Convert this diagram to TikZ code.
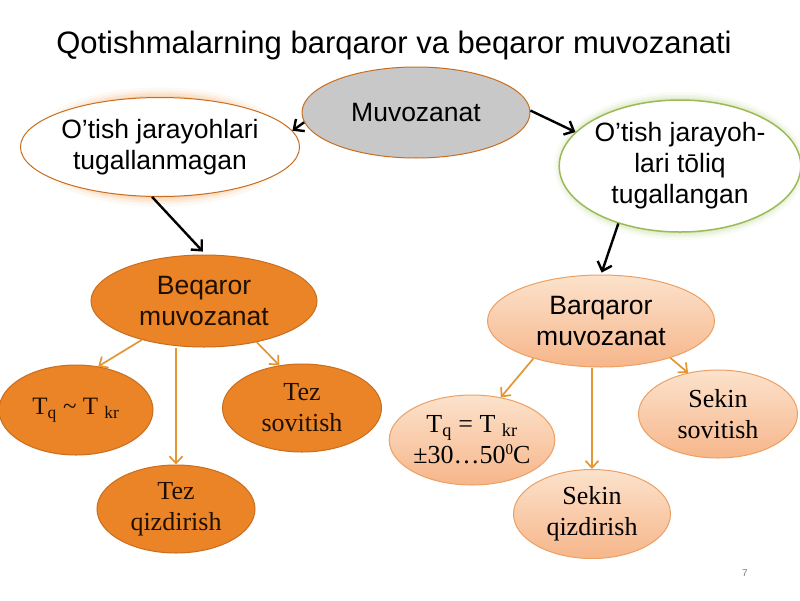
\documentclass[tikz,border=0pt]{standalone}
\usepackage{fontspec}
\setmainfont{Liberation Serif}
\setsansfont{Liberation Sans}
\usetikzlibrary{shapes.geometric,arrows.meta}
\definecolor{grayfill}{RGB}{200,200,200}
\definecolor{ordraw}{RGB}{200,110,30}
\definecolor{orfill}{RGB}{234,132,38}
\definecolor{ortext}{RGB}{30,15,0}
\definecolor{pk1}{RGB}{252,226,204}
\definecolor{pk2}{RGB}{246,182,138}
\definecolor{pkdraw}{RGB}{236,160,100}
\definecolor{grn}{RGB}{155,187,89}
\definecolor{glowor}{RGB}{246,160,80}
\definecolor{glowgr}{RGB}{180,210,120}
\definecolor{orline}{RGB}{228,150,50}
\newcommand{\degz}{\raisebox{0.75ex}{\fontsize{15}{15}\selectfont 0}}
\begin{document}
\begin{tikzpicture}[x=1pt,y=-1pt,
  sans/.style={font=\sffamily\fontsize{26.5}{31}\selectfont},
  serif/.style={font=\rmfamily\fontsize{26}{31}\selectfont},
  ell/.style={ellipse, inner sep=0pt, align=center, line width=1pt},
  orangenode/.style={ell, serif, fill=orfill, draw=ordraw, text=ortext},
  peachnode/.style={ell, serif, top color=pk1, bottom color=pk2, draw=pkdraw},
  blkarrow/.style={-{Straight Barb[length=8pt,width=15pt]}, line width=2.4pt, black},
  orarrow/.style={-{Straight Barb[length=7pt,width=13pt]}, line width=1.7pt, draw=orline}]
\useasboundingbox (0,0) rectangle (800,600);
\fill[white] (0,0) rectangle (800,600);

\node[font=\sffamily\fontsize{31}{36}\selectfont, anchor=base] (title) at (394,53) {Qotishmalarning barqaror va beqaror muvozanati};

% glows
\foreach \w/\o in {20/0.07,14/0.1,9/0.14,4/0.2}
  \draw[line width=\w pt, draw=glowor, opacity=\o] (160,147) ellipse [x radius=120pt, y radius=49.5pt];
\foreach \w/\o in {16/0.07,11/0.1,7/0.14,3/0.2}
  \draw[line width=\w pt, draw=glowgr, opacity=\o] (680,166) ellipse [x radius=118pt, y radius=66pt];

\node[ell, sans, fill=grayfill, draw=ordraw, minimum width=228pt, minimum height=91pt] (muv) at (416,112.5) {Muvozanat};
\node[ell, sans, fill=white, draw=ordraw, minimum width=240pt, minimum height=99pt] (lt) at (160,147) {O’tish jarayohlari\\tugallanmagan};
\node[ell, sans, fill=white, draw=grn, line width=1.5pt, minimum width=236pt, minimum height=132pt] (rt) at (680,166) {O’tish jarayoh-\\lari tōliq\\tugallangan};

\node[ell, sans, fill=orfill, draw=ordraw, text=ortext, minimum width=226pt, minimum height=92pt] (bq) at (204,301) {Beqaror\\muvozanat};
\node[ell, sans, top color=pk1, bottom color=pk2, draw=pkdraw, minimum width=227pt, minimum height=92pt] (br) at (601,321) {Barqaror\\muvozanat};

\node[orangenode, font=\rmfamily\fontsize{25}{30}\selectfont, minimum width=154pt, minimum height=90pt] (tq1) at (76,410) {T\textsubscript{q} \textasciitilde{} T \textsubscript{kr}};
\node[orangenode, minimum width=159pt, minimum height=88pt] (ts) at (302,408) {Tez\\sovitish};
\node[orangenode, minimum width=158pt, minimum height=88pt] (tz) at (176,509) {Tez\\qizdirish};

\node[peachnode, minimum width=157pt, minimum height=90pt] (tq2) at (472,440) {T\textsubscript{q} = T \textsubscript{kr}\\±30…50\degz C};
\node[peachnode, minimum width=159pt, minimum height=88pt] (ss) at (718,414) {Sekin\\sovitish};
\node[peachnode, minimum width=157pt, minimum height=89pt] (sq) at (592,514) {Sekin\\qizdirish};

\node[font=\sffamily\fontsize{10}{12}\selectfont, text=gray] (pn) at (745,573) {7};

% connectors
\draw[blkarrow] (muv.185) -- (lt.7);
\draw[blkarrow] (muv.1) -- (rt.162);
\draw[blkarrow, shorten >=4pt] (lt.261) -- (bq.88);
\draw[blkarrow, shorten >=2pt] (rt.223) -- (br.90);
\draw[orarrow] (bq.212) -- (tq1.63);
\draw[orarrow] (bq.322) -- (ts.118);
\draw[orarrow] (bq.south -| tz.north) -- (tz.north);
\draw[orarrow] (br.209) -- (tq2.56);
\draw[orarrow] (br.south -| sq.north) -- (sq.north);
\draw[orarrow] (br.332) -- (ss.126);
\end{tikzpicture}
\end{document}
